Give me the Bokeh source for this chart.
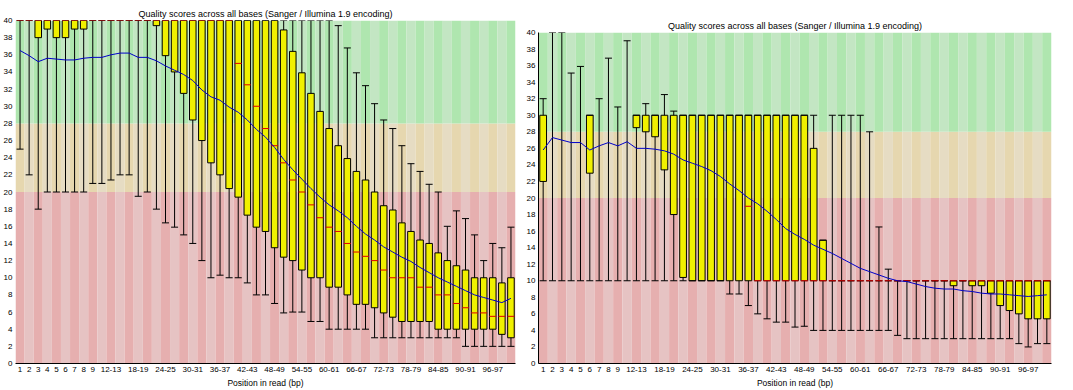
from bokeh.plotting import figure
from bokeh.layouts import row, column
from bokeh.models import Range1d, FixedTicker, Spacer
from bokeh.embed import file_html
from bokeh.resources import INLINE

nan = float("nan")

TITLE = "Quality scores across all bases (Sanger / Illumina 1.9 encoding)"
XLABEL = "Position in read (bp)"

# base groups (one box per group)
positions = ["1", "2", "3", "4", "5", "6", "7", "8", "9",
             "10-11", "12-13", "14-15", "16-17", "18-19", "20-21", "22-23", "24-25",
             "26-27", "28-29", "30-31", "32-33", "34-35", "36-37", "38-39", "40-41",
             "42-43", "44-45", "46-47", "48-49", "50-51", "52-53", "54-55", "56-57",
             "58-59", "60-61", "62-63", "64-65", "66-67", "68-69", "70-71", "72-73",
             "74-75", "76-77", "78-79", "80-81", "82-83", "84-85", "86-87", "88-89",
             "90-91", "92-93", "94-95", "96-97", "98-99", "100-101"]

# x labels actually printed under the axis
shown_labels = ["1", "2", "3", "4", "5", "6", "7", "8", "9", "12-13", "18-19", "24-25",
                "30-31", "36-37", "42-43", "48-49", "54-55", "60-61", "66-67", "72-73",
                "78-79", "84-85", "90-91", "96-97"]

y_ticks = [0, 2, 4, 6, 8, 10, 12, 14, 16, 18, 20, 22, 24, 26, 28, 30, 32, 34, 36, 38, 40]

# quality zones: bottom, top, dark stripe, light stripe
zone_bottom = [0, 20, 28]
zone_top = [20, 28, 40]
zone_dark = ["#e6afaf", "#e6d7af", "#afe6af"]
zone_light = ["#e6c3c3", "#e6dcc3", "#c3e6c3"]

# ---------------- left chart ----------------
left_q3 = [40, 40, 40, 40, 40, 40, 40, 40, 40, 40, 40, 40, 40, 40, 40, 40, 40, 40, 40, 40,
           40, 40, 40, 40, 40, 40, 40, 40, 40, 38.9, 36.4, 33.9, 31.5, 29.4, 27.4, 25.4, 23.9,
           22.4, 21.4, 20.0, 18.4, 17.9, 16.4, 15.4, 14.4, 14.0, 12.9, 12.0, 11.4, 10.9, 10.0,
           10.0, 10.0, 9.4, 10.0]
left_q1 = [40, 40, 38, 39, 38, 38, 39, 39, 40, 40, 40, 40, 40, 40, 40, 39.4, 35.9, 34.0, 31.5,
           28.4, 26.0, 23.4, 22.0, 20.4, 19.4, 17.3, 15.9, 15.4, 13.5, 12.4, 12.0, 10.9, 10.0,
           10.0, 8.9, 8.9, 8.0, 6.9, 6.9, 6.5, 5.9, 5.4, 4.9, 4.9, 4.9, 4.9, 4.0, 4.0, 4.0, 4.0,
           4.0, 4.0, 4.0, 3.4, 3.0]
left_median = [40, 40, 40, 40, 40, 40, 40, 40, 40, 40, 40, 40, 40, 40, 40, 40, 40, 40, 40, 40,
               40, 40, 40, 40, 35.0, 32.5, 30.0, 27.4, 25.4, 23.4, 21.4, 20.0, 18.5, 17.0, 15.9,
               15.4, 14.0, 13.0, 12.5, 12.0, 10.9, 10.0, 10.0, 10.0, 8.9, 8.9, 8.0, 8.0, 7.0,
               6.5, 5.9, 5.9, 5.5, 5.5, 5.5]
left_p10 = [25, 22, 18, 20, 20, 20, 20, 20, 21, 21, 21.4, 22, 22, 19.5, 20, 18, 16.4, 15.9,
            15.0, 14.0, 12.0, 10.0, 10.3, 10.0, 10.0, 9.4, 8.0, 8.0, 7.0, 5.9, 6.0, 6.0, 4.9,
            4.9, 4.0, 4.0, 4.0, 4.0, 4.0, 3.0, 3.0, 3.0, 3.0, 3.0, 3.0, 3.0, 3.0, 3.0, 3.0, 2.0,
            2.0, 2.0, 2.0, 2.0, 2.0]
left_p90 = [40, 40, 40, 40, 40, 40, 40, 40, 40, 40, 40, 40, 40, 40, 40, 40, 40, 40, 40, 40,
            40, 40, 40, 40, 40, 40, 40, 40, 40, 40, 40, 40, 40, 40, 40, 39.4, 36.8, 33.9, 32.4,
            30.3, 28.4, 27.4, 25.4, 23.3, 22.4, 20.9, 20.0, 16.0, 17.8, 16.9, 15.0, 12.0, 14.0,
            13.5, 15.9]
left_mean = [36.5, 35.9, 35.2, 35.6, 35.5, 35.4, 35.4, 35.6, 35.7, 35.7, 36.0, 36.2, 36.2,
             35.7, 35.7, 35.3, 34.7, 34.2, 33.7, 33.0, 31.9, 31.1, 30.7, 29.9, 29.3, 28.4,
             27.3, 26.4, 25.2, 23.8, 22.6, 21.5, 20.4, 19.4, 18.5, 17.8, 17.0, 16.0, 15.1,
             14.4, 13.6, 13.0, 12.4, 11.9, 11.2, 10.6, 10.0, 9.5, 9.0, 8.5, 8.0, 7.7, 7.4,
             7.1, 7.6]

# ---------------- right chart ----------------
right_q3 = [30, nan, nan, nan, nan, 30, nan, nan, nan, nan, 30, 30, 30, 30, 30, 30, 30, 30,
            30, 30, 30, 30, 30, 30, 30, 30, 30, 30, 30, 26, 14.9, 10, 10, 10, 10, 10, 10, 10,
            10, 10, 10, 10, 10, 10, 10, 10, 10, 10, 10, 10, 10, 10, 10, 10, 10]
right_q1 = [22, nan, nan, nan, nan, 23, nan, nan, nan, nan, 28.5, 28, 27.4, 23.4, 18, 10.4,
            10, 10, 10, 10, 10, 10, 10, 10, 10, 10, 10, 10, 10, 10, 10, 10, 10, 10, 10, 10,
            10, 10, 10, 10, 10, 10, 10, 10, 9.4, 10, 9.4, 9.4, 8.5, 7.0, 6.4, 6.0, 5.4, 5.4,
            5.4]
right_median = [nan, nan, nan, nan, nan, nan, nan, nan, nan, nan, nan, nan, nan, nan, nan,
                nan, nan, nan, nan, nan, nan, nan, 19.0, 10, 10, 10, 10, 10, 10, 10, 10, 10,
                10, 10, 10, 10, 10, 10, 10, 10, 10, 10, 10, 10, 10, 10, 10, 10, 10, 10, 10, 10,
                10, 10, 10]
right_p10 = [10, 10, 10, 10, 10, 10, 10, 10, 10, 10, 10, 10, 10, 10, 10, 10, 10, 10, 10, 10,
             8.4, 8.4, 7.0, 6.0, 5.4, 5.0, 5.0, 4.4, 4.5, 4.0, 4.0, 4.0, 4.0, 4.0, 4.0, 4.0,
             4.0, 4.0, 3.4, 3.0, 3.0, 3.0, 3.0, 3.0, 3.0, 3.0, 3.0, 3.0, 3.0, 3.0, 3.0, 2.4,
             2.0, 2.4, 2.4]
right_p90 = [32, 40, 40, 35.1, 35.9, 30, 32, 36.9, 31, 39, 30, 31.4, 30, 32.5, 30.5, 30, 30,
             30, 30, 30, 30, 30, 30, 30, 30, 30, 30, 30, 30, 30, 14.9, 30, 30, 30, 30, 28,
             16.5, 11.4, 10, 10, 10, 10, 10, 10, 10, 10, 10, 10, 10, 10, 10, 10, 10, 10, 10]
right_mean = [25.8, 27.3, 27.0, 26.7, 26.7, 25.8, 26.3, 26.7, 26.3, 26.8, 26.0, 26.0, 25.9,
              25.7, 25.3, 24.6, 24.2, 23.8, 23.3, 22.6, 21.7, 20.9, 20.0, 19.3, 18.4, 17.4,
              16.3, 15.6, 15.0, 14.3, 13.8, 13.3, 12.7, 12.1, 11.5, 11.1, 10.7, 10.3, 10.0,
              9.9, 9.6, 9.3, 9.1, 9.0, 9.0, 8.8, 8.7, 8.5, 8.4, 8.4, 8.3, 8.2, 8.1, 8.2, 8.3]

FONT = "Liberation Sans"


def make_panel(q3, q1, med, p10, p90, mean, width, height, bl, br, bt, bb, standoff, yline):
    n = len(positions)
    xs = list(range(n))
    p = figure(width=width, height=height, output_backend="svg", toolbar_location=None,
               x_range=Range1d(-0.5, n - 0.5), y_range=Range1d(0, 40),
               min_border_left=bl, min_border_right=br, min_border_top=bt,
               min_border_bottom=bb)
    p.background_fill_color = "white"
    p.border_fill_color = "white"
    p.outline_line_color = None
    p.xgrid.visible = False
    p.ygrid.visible = False

    # striped zones
    for zb, zt, dk, lt in zip(zone_bottom, zone_top, zone_dark, zone_light):
        cols = [dk if i % 2 == 0 else lt for i in xs]
        p.vbar(x=xs, width=1.0, bottom=zb, top=zt, fill_color=cols, line_color=None)

    # whiskers
    p.segment(x0=xs, y0=p10, x1=xs, y1=p90, line_color="black", line_width=1)
    # boxes
    p.vbar(x=xs, width=0.72, bottom=q1, top=q3, fill_color="#f0f000",
           line_color="black", line_width=1)
    # whisker caps
    p.scatter(x=xs, y=p10, marker="dash", size=7, line_color="black", line_width=1)
    p.scatter(x=xs, y=p90, marker="dash", size=7, line_color="black", line_width=1)
    # medians
    p.scatter(x=xs, y=med, marker="dash", size=7, line_color="#dd0000", line_width=1)
    # mean
    p.line(x=xs, y=mean, line_color="#0000c8", line_width=1)

    p.title.text = TITLE
    p.title.align = "center"
    p.title.text_font = FONT
    p.title.text_font_size = "9px"
    p.title.text_font_style = "normal"
    p.title.text_color = "black"
    p.title.standoff = standoff

    ticks = [positions.index(l) for l in shown_labels]
    p.xaxis.ticker = FixedTicker(ticks=ticks)
    p.xaxis.major_label_overrides = {t: l for t, l in zip(ticks, shown_labels)}
    p.yaxis.ticker = FixedTicker(ticks=y_ticks)
    for ax in (p.xaxis, p.yaxis):
        ax.major_tick_line_color = None
        ax.minor_tick_line_color = None
        ax.major_tick_out = 0
        ax.major_tick_in = 0
        ax.major_label_text_font = FONT
        ax.major_label_text_font_size = "8px"
        ax.major_label_text_color = "black"
        ax.major_label_standoff = 3
    p.xaxis.axis_line_color = "black"
    p.yaxis.axis_line_color = "black" if yline else None
    p.xaxis.axis_label = XLABEL
    p.xaxis.axis_label_text_font = FONT
    p.xaxis.axis_label_text_font_size = "8.5px"
    p.xaxis.axis_label_text_font_style = "normal"
    p.xaxis.axis_label_text_color = "black"
    p.xaxis.axis_label_standoff = 3
    return p


p_left = make_panel(left_q3, left_q1, left_median, left_p10, left_p90, left_mean,
                    width=520, height=390, bl=14, br=5, bt=20, bb=26, standoff=4, yline=False)
p_right = make_panel(right_q3, right_q1, right_median, right_p10, right_p90, right_mean,
                     width=553, height=378, bl=18, br=22, bt=20, bb=26, standoff=4, yline=True)

layout = row(p_left, column(Spacer(width=553, height=12), p_right))
open("out.html", "w").write(file_html(layout, INLINE))
